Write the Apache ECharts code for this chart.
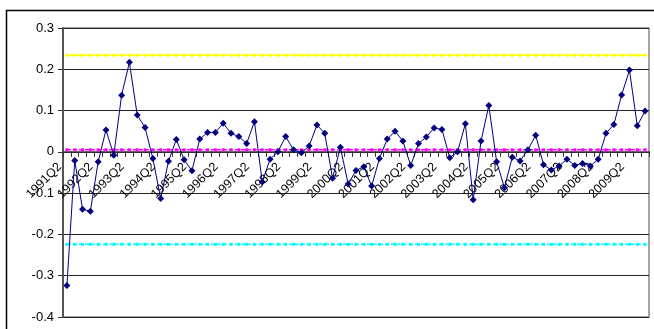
<!DOCTYPE html>
<html>
<head>
<meta charset="utf-8">
<style>
  html, body { margin: 0; padding: 0; background: #fff; }
  #chart { width: 654px; height: 329px; }
</style>
<script src="https://cdn.jsdelivr.net/npm/echarts@6/dist/echarts.min.js"></script>
</head>
<body>
<div id="chart"></div>
<script>
// Quarterly periods, 1991Q2 through 2009Q4
const quarters = [
  '1991Q2','1991Q3','1991Q4',
  '1992Q1','1992Q2','1992Q3','1992Q4',
  '1993Q1','1993Q2','1993Q3','1993Q4',
  '1994Q1','1994Q2','1994Q3','1994Q4',
  '1995Q1','1995Q2','1995Q3','1995Q4',
  '1996Q1','1996Q2','1996Q3','1996Q4',
  '1997Q1','1997Q2','1997Q3','1997Q4',
  '1998Q1','1998Q2','1998Q3','1998Q4',
  '1999Q1','1999Q2','1999Q3','1999Q4',
  '2000Q1','2000Q2','2000Q3','2000Q4',
  '2001Q1','2001Q2','2001Q3','2001Q4',
  '2002Q1','2002Q2','2002Q3','2002Q4',
  '2003Q1','2003Q2','2003Q3','2003Q4',
  '2004Q1','2004Q2','2004Q3','2004Q4',
  '2005Q1','2005Q2','2005Q3','2005Q4',
  '2006Q1','2006Q2','2006Q3','2006Q4',
  '2007Q1','2007Q2','2007Q3','2007Q4',
  '2008Q1','2008Q2','2008Q3','2008Q4',
  '2009Q1','2009Q2','2009Q3','2009Q4'
];

// Quarterly series values
const values = [
  -0.324, -0.021, -0.139, -0.144,
  -0.024, 0.053, -0.008, 0.137,
  0.217, 0.089, 0.059, -0.016,
  -0.113, -0.023, 0.030, -0.019,
  -0.046, 0.031, 0.047, 0.047,
  0.069, 0.045, 0.037, 0.020,
  0.073, -0.073, -0.018, 0.000,
  0.037, 0.005, -0.002, 0.014,
  0.065, 0.045, -0.064, 0.011,
  -0.078, -0.045, -0.036, -0.083,
  -0.016, 0.031, 0.050, 0.026,
  -0.033, 0.020, 0.036, 0.058,
  0.054, -0.014, 0.000, 0.068,
  -0.116, 0.026, 0.112, -0.024,
  -0.087, -0.013, -0.022, 0.005,
  0.040, -0.031, -0.044, -0.034,
  -0.018, -0.033, -0.028, -0.034,
  -0.018, 0.045, 0.066, 0.138,
  0.198, 0.063, 0.099
];

// Control levels
const upperLevel = 0.234;
const centerLevel = 0.005;
const lowerLevel = -0.224;

// Value axis range and step
const yMin = -0.4;
const yMax = 0.3;
const yStep = 0.1;

// Plot box
const gridLeft = 63, gridRight = 5, gridTop = 28, gridBottom = 12;
const chartW = 654, chartH = 329;
const plotH = chartH - gridTop - gridBottom;
// Category axis sits on the zero line: lift it from the plot bottom
const zeroLift = (0 - yMin) / (yMax - yMin) * plotH;

const flat = v => quarters.map(() => v);

const levelSeries = (name, level, color, dashed) => ({
  name: name,
  type: 'line',
  data: flat(level),
  symbol: 'rect',
  symbolSize: [3, 3],
  showSymbol: true,
  showAllSymbol: true,
  itemStyle: { color: color },
  lineStyle: { color: color, width: 1.5, type: dashed ? [4, 2] : 'solid' },
  silent: true,
  z: 2
});

const chart = echarts.init(document.getElementById('chart'), null, { renderer: 'canvas' });

chart.setOption({
  animation: false,
  backgroundColor: '#ffffff',
  textStyle: { fontFamily: '"Liberation Sans", Arial, sans-serif' },
  graphic: [{
    type: 'rect',
    shape: { x: 6.5, y: 10.5, width: 700, height: 400 },
    style: { fill: null, stroke: '#000', lineWidth: 1.5 },
    silent: true,
    z: -10
  }, {
    type: 'rect',
    shape: { x: gridLeft, y: gridTop, width: chartW - gridLeft - gridRight, height: plotH },
    style: { fill: null, stroke: '#888', lineWidth: 1.5 },
    silent: true,
    z: -5
  }],
  grid: {
    left: gridLeft, right: gridRight, top: gridTop, bottom: gridBottom,
    containLabel: false,
    outerBoundsMode: 'none'
  },
  xAxis: {
    type: 'category',
    data: quarters,
    boundaryGap: true,
    position: 'bottom',
    offset: -zeroLift,
    axisLine: { onZero: false, lineStyle: { color: '#333', width: 1.5 } },
    axisTick: { show: true, interval: 0, length: 5, inside: false, lineStyle: { color: '#333', width: 1 } },
    axisLabel: {
      interval: 3,
      rotate: 45,
      margin: 6,
      padding: [0, 10, 0, 0],
      fontSize: 12.5,
      color: '#000',
      hideOverlap: false,
      fontFamily: '"Liberation Sans", Arial, sans-serif'
    },
    splitLine: { show: false }
  },
  yAxis: {
    type: 'value',
    min: yMin,
    max: yMax,
    interval: yStep,
    axisLine: { show: true, lineStyle: { color: '#555', width: 2 } },
    axisTick: { show: true, length: 5, lineStyle: { color: '#333' } },
    axisLabel: {
      margin: 9,
      fontSize: 13,
      color: '#000',
      formatter: v => String(Math.round(v * 10) / 10),
      fontFamily: '"Liberation Sans", Arial, sans-serif'
    },
    splitLine: { show: true, lineStyle: { color: '#222', width: 1 } }
  },
  series: [
    levelSeries('upper', upperLevel, '#ffff00', false),
    levelSeries('center', centerLevel, '#ff00ff', true),
    levelSeries('lower', lowerLevel, '#00ffff', true),
    {
      name: 'value',
      type: 'line',
      data: values,
      symbol: 'diamond',
      symbolSize: 7,
      showSymbol: true,
      showAllSymbol: true,
      itemStyle: { color: '#000080' },
      lineStyle: { color: '#000080', width: 1 },
      z: 5
    }
  ]
});
</script>
</body>
</html>
